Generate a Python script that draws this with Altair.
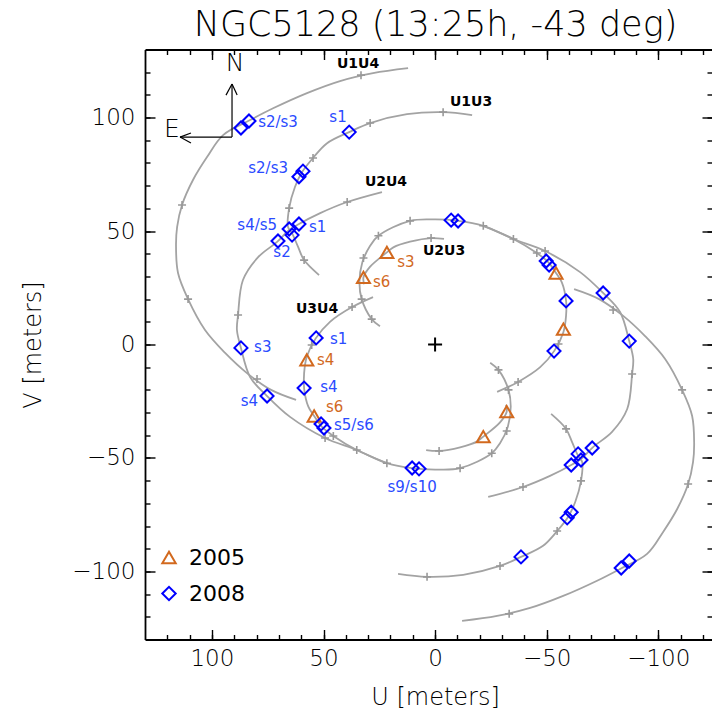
import altair as alt
import pandas as pd

# ---------------- values (metres) ----------------
# one half of every baseline track; the other half is its conjugate (-u, -v)
TRACKS = ["U1U4", "U1U3", "U2U4", "U3U4", "U2U3"]
U1U4_u = [12.1, 27.8, 42.6, 57.4, 72.6, 82.9, 95.0, 102.2, 108.5, 113.4, 115.6, 116.1, 115.2, 110.7, 103.1, 94.1, 84.3, 73.5, 62.3]
U1U4_v = [121.8, 119.6, 116.1, 110.8, 104.1, 98.9, 92.3, 82.6, 72.5, 61.5, 51.8, 43.8, 31.5, 20.0, 6.4, -3.7, -12.6, -20.0, -24.4]
U1U3_u = [-16.6, -3.6, 12.6, 29.1, 38.5, 48.4, 54.7, 59.6, 62.8, 65.4, 65.9, 64.1, 61.4, 58.7, 52.0]
U1U3_v = [101.1, 102.4, 101.5, 97.6, 93.6, 88.7, 82.2, 76.0, 69.4, 60.1, 51.8, 49.1, 43.0, 37.2, 30.6]
U2U4_u = [23.8, 39.4, 51.5, 61.0, 65.9, 70.8, 79.3, 86.1, 88.3, 88.8, 87.0, 82.9, 75.3, 65.0, 49.3, 35.1,
          21.6, 10.4, 0.0, -11.2, -25.4, -29.1, -32.6, -33.9, -32.9, -28.4, -24.7]
U2U4_v = [67.2, 62.8, 57.9, 53.1, 50.0, 45.2, 38.5, 28.4, 13.0, 6.4, -1.5, -14.3, -22.7, -31.9, -41.2, -46.5,
          -52.3, -54.5, -55.1, -54.5, -47.9, -43.5, -36.2, -27.4, -20.0, -11.2, -8.0]
U3U4_u = [27.8, 37.2, 47.1, 53.5, 57.5, 58.7, 58.7, 56.8, 54.2, 50.8, 45.6, 35.1, 21.6]
U3U4_v = [20.9, 16.5, 10.0, 2.7, -5.4, -12.7, -19.3, -27.4, -31.5, -36.2, -40.3, -46.5, -52.3]
U2U3_u = [-4.0, 1.8, 11.2, 18.7, 21.6, 29.1, 32.1, 31.8]
U2U3_v = [46.5, 46.9, 45.3, 42.8, 40.6, 34.3, 29.6, 26.6]

# hourly "+" marks along the tracks (one half)
TICK_u = [33.2, 113.4, 110.7, 79.8, -3.6, 29.1, 54.7, 65.4, 58.7, 39.4, 88.3, 49.3, 35.1, 21.6,
          -11.2, -25.4, -32.1, -32.9, -28.4, 37.2, 55.3, 45.6, 1.8]
TICK_v = [118.7, 61.5, 20.0, -15.2, 102.4, 97.6, 82.2, 60.1, 37.2, 62.8, 13.0, -41.2, -46.5, -52.3,
          -54.5, -47.9, -38.1, -20.0, -11.2, 16.5, -0.2, -40.3, 46.9]

# observations (one half)
OBS2008_u = [87.0, 83.4, 38.5, 61.0, 59.2, 65.4, 64.1, 61.0, 70.4, 87.0, 75.3, 53.3, 58.7, 51.1, 49.8, 10.3, 7.2]
OBS2008_v = [95.4, 98.5, 93.6, 73.9, 76.4, 50.9, 48.2, 53.1, 45.6, -1.5, -22.7, 2.9, -19.2, -35.0, -36.8, -54.4, -54.8]
OBS2005_u = [57.5, 54.2, 21.6, 32.1]
OBS2005_v = [-6.8, -31.5, 40.6, 29.6]
YEARS = ["2005", "2008"]

# baseline names
BL_text = ["U1U4", "U1U3", "U2U4", "U2U3", "U3U4"]
BL_u = [34.5, -16.1, 22.0, -4.0, 52.9]
BL_v = [123.6, 106.8, 71.6, 41.1, 15.6]

# observation labels
SL_text = ["s2/s3", "s1", "s2/s3", "s4/s5", "s1", "s2", "s3", "s4", "s1", "s4", "s5/s6", "s9/s10",
           "s4", "s6", "s3", "s6"]
SL_year = ["2008"] * 12 + ["2005"] * 4
SL_align = ["left", "center", "right", "right", "left", "center", "left", "right", "left", "left", "left",
            "center", "left", "left", "left", "left"]
SL_u = [79.3, 43.5, 65.9, 70.8, 56.5, 68.6, 81.1, 79.3, 47.1, 51.5, 45.3, 10.3, 52.9, 48.9, 17.0, 27.8]
SL_v = [98.0, 100.2, 77.8, 52.6, 51.8, 40.7, -1.1, -24.9, 2.4, -18.7, -35.4, -62.8, -6.8, -27.6, 36.3, 27.5]

# compass (N / E arrows)
ARROW_u = [91.0, 91.0, 93.7, 88.7, 109.4, 109.4]
ARROW_v = [91.4, 91.4, 109.9, 109.9, 93.2, 88.8]
ARROW_u2 = [91.0, 114.3, 91.0, 91.0, 114.3, 114.3]
ARROW_v2 = [114.8, 91.4, 114.8, 114.8, 91.4, 91.4]
COMPASS_text = ["N", "E"]
COMPASS_u = [89.6, 117.9]
COMPASS_v = [124.0, 94.9]

X_MAJOR = [100, 50, 0, -50, -100]
Y_MAJOR = [100, 50, 0, -50, -100]
MINOR = list(range(-120, 130, 10))

# ---------------- tables ----------------
track_data = {"U1U4": (U1U4_u, U1U4_v), "U1U3": (U1U3_u, U1U3_v), "U2U4": (U2U4_u, U2U4_v),
              "U3U4": (U3U4_u, U3U4_v), "U2U3": (U2U3_u, U2U3_v)}
rows = []
for name in TRACKS:
    us, vs = track_data[name]
    for i, (u, v) in enumerate(zip(us, vs)):
        rows.append({"key": name + "a", "i": i, "u": u, "v": v})
        rows.append({"key": name + "b", "i": i, "u": -u, "v": -v})
tracks = pd.DataFrame(rows)

ticks = pd.DataFrame({"u": TICK_u + [-a for a in TICK_u], "v": TICK_v + [-a for a in TICK_v]})

obs_rows = []
for yr, us, vs in (("2005", OBS2005_u, OBS2005_v), ("2008", OBS2008_u, OBS2008_v)):
    for u, v in zip(us, vs):
        obs_rows.append({"year": yr, "u": u, "v": v})
        obs_rows.append({"year": yr, "u": -u, "v": -v})
obs = pd.DataFrame(obs_rows)

bl = pd.DataFrame({"t": BL_text, "u": BL_u, "v": BL_v})
sl = pd.DataFrame({"t": SL_text, "year": SL_year, "align": SL_align, "u": SL_u, "v": SL_v})
arrows = pd.DataFrame({"u": ARROW_u, "v": ARROW_v, "u2": ARROW_u2, "v2": ARROW_v2})
compass = pd.DataFrame({"t": COMPASS_text, "u": COMPASS_u, "v": COMPASS_v})
centre = pd.DataFrame({"u": [0.0], "v": [0.0]})

# ---------------- styling ----------------
W, H = 567, 590
FONT = "DejaVu Sans"
GREY = "#a3a3a3"
BLUE = "#0000ff"
BLUE_TXT = "#2a4bff"
ORANGE = "#d2691e"
PLUS = "M-1,0L1,0M0,-1L0,1"

xs = alt.Scale(domain=[130, -124.1], nice=False, zero=False)
ys = alt.Scale(domain=[-130, 130], nice=False, zero=False)

def tick_axis(orient, offset, values, size):
    return alt.Axis(orient=orient, offset=offset, values=values, tickSize=size, tickColor="black",
                    tickWidth=1.4, labels=False, domain=False, grid=False, title=None)

def top_axis():
    return alt.Axis(orient="bottom", offset=-H, values=X_MAJOR, tickSize=10, tickColor="black",
                    tickWidth=1.4, labels=False, domain=True, domainColor="black", domainWidth=1.8,
                    grid=False, title=None)

x_label_axis = alt.Axis(orient="bottom", values=X_MAJOR, ticks=False, tickSize=0, labelPadding=8,
                        labelFontSize=23, labelFont=FONT, labelFontWeight=300, labelColor="black",
                        domain=True, domainColor="black", domainWidth=1.8, grid=False,
                        title="U [meters]", titleFontSize=24, titleFont=FONT, titleFontWeight=300,
                        titleColor="black", titleX=290, titleY=58, titleBaseline="middle",
                        labelFlush=False, labelOverlap=False)
y_label_axis = alt.Axis(orient="left", values=Y_MAJOR, ticks=False, tickSize=0, labelPadding=10,
                        labelFontSize=23, labelFont=FONT, labelFontWeight=300, labelColor="black",
                        domain=True, domainColor="black", domainWidth=1.8, grid=False,
                        title="V [meters]", titleFontSize=24, titleFont=FONT, titleFontWeight=300,
                        titleColor="black", titleX=-112, titleY=295, titleBaseline="middle",
                        titleAngle=270, labelFlush=False, labelOverlap=False)

def enc(xaxis, yaxis):
    return dict(x=alt.X("u:Q", scale=xs, axis=xaxis), y=alt.Y("v:Q", scale=ys, axis=yaxis))

legend = alt.Legend(orient="none", legendX=13, legendY=497, title=None, labelFontSize=22,
                    labelFont=FONT, labelFontWeight="normal", labelColor="black", symbolStrokeWidth=2,
                    symbolSize=180, rowPadding=14, labelOffset=9, padding=0, labelBaseline="middle")

lines = alt.Chart(tracks).mark_line(interpolate="catmull-rom", color=GREY, strokeWidth=1.8).encode(
    detail="key:N", order="i:Q", **enc(x_label_axis, y_label_axis))

tick_marks = alt.Chart(ticks).mark_point(shape=PLUS, size=64, color="#999999", strokeWidth=1.6,
                                         filled=False, opacity=1).encode(
    **enc(tick_axis("top", -H, X_MAJOR, 10), tick_axis("right", -W, Y_MAJOR, 10)))

markers = alt.Chart(obs).mark_point(filled=False, strokeWidth=2, opacity=1, size=170).encode(
    color=alt.Color("year:N", scale=alt.Scale(domain=YEARS, range=[ORANGE, BLUE]), legend=legend),
    shape=alt.Shape("year:N", scale=alt.Scale(domain=YEARS, range=["triangle-up", "diamond"]),
                    legend=legend),
    **enc(tick_axis("top", -H, MINOR, 5), tick_axis("right", -W, MINOR, 5)))

compass_rules = alt.Chart(arrows).mark_rule(color="black", strokeWidth=1.2).encode(
    x2="u2:Q", y2="v2:Q", **enc(top_axis(), tick_axis("left", -W, Y_MAJOR, 10)))

compass_text = alt.Chart(compass).mark_text(font=FONT, fontSize=25, fontWeight=300, color="black",
                                            align="center", baseline="middle").encode(
    text="t:N", **enc(tick_axis("bottom", -H, MINOR, 5), tick_axis("left", -W, MINOR, 5)))

centre_mark = alt.Chart(centre).mark_point(shape=PLUS, size=196, color="black", strokeWidth=2,
                                           filled=False, opacity=1).encode(**enc(None, None))

bl_text = alt.Chart(bl).mark_text(font=FONT, fontSize=14, fontWeight="bold", color="black",
                                  align="center", baseline="middle").encode(text="t:N", **enc(None, None))

sl_layers = []
for al in ("left", "center", "right"):
    for yr, col in (("2008", BLUE_TXT), ("2005", ORANGE)):
        sub = sl[(sl["align"] == al) & (sl["year"] == yr)]
        if len(sub) == 0:
            continue
        sl_layers.append(alt.Chart(sub).mark_text(font=FONT, fontSize=15, color=col, align=al,
                                                  baseline="middle").encode(text="t:N", **enc(None, None)))

chart = alt.layer(lines, tick_marks, markers, compass_rules, compass_text, centre_mark, bl_text,
                  *sl_layers).resolve_axis(x="independent", y="independent").properties(
    width=W, height=H,
    title=alt.TitleParams("NGC5128 (13:25h, -43 deg)", fontSize=35, font=FONT, fontWeight=300,
                          color="black", anchor="middle", offset=6, dx=7),
    autosize=alt.AutoSizeParams(type="none"),
    padding={"left": 137, "top": 41.5, "right": 0, "bottom": 80},
).configure_view(stroke=None)

chart.save("out.html", embed_options={"renderer": "svg", "actions": False})
